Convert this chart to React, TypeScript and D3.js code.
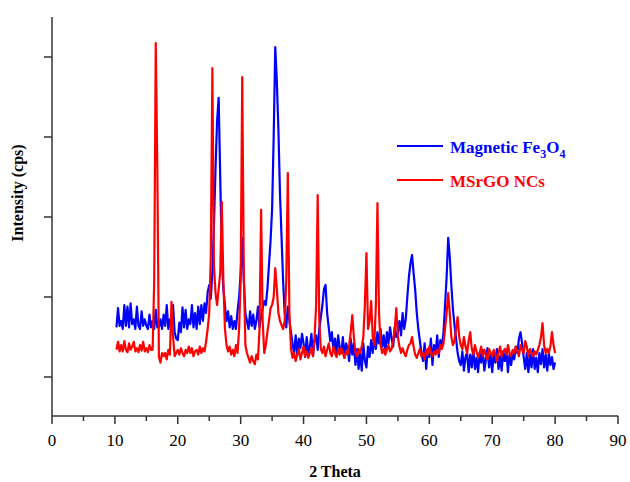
import React from "react";
import * as d3 from "d3";

const thetaStart = 10.25;
const thetaStep = 0.25;

// Magnetic Fe3O4 intensities (cps), 10.25..80 in 0.25 steps
const fe3o4Intensity: number[] = [
  620, 860, 640,
  700, 600, 900, 640,
  880, 620, 920, 660,
  720, 600, 880, 640,
  600, 820, 640, 720,
  640, 600, 780, 620,
  700, 600, 840, 620,
  620, 720, 600, 780,
  640, 900, 600, 720,
  600, 900, 560, 480,
  460, 680, 560, 870,
  620, 840, 600, 720,
  660, 900, 620, 800,
  600, 880, 660, 900,
  700, 920, 800, 1060,
  1150, 980, 1300, 1900,
  2600, 3200, 3490, 2500,
  1500, 1100, 900, 700,
  820, 620, 760, 600,
  700, 600, 820, 1000,
  1300, 1740, 1200, 800,
  700, 600, 820, 640,
  780, 600, 700, 880,
  620, 760, 860, 950,
  900, 1100, 1400, 1700,
  2100, 3000, 4125, 3700,
  3100, 2300, 1750, 1200,
  800, 620, 880, 700,
  560, 420, 300, 520,
  280, 480, 360, 540,
  420, 250, 500, 300,
  380, 540, 260, 460,
  520, 340, 600, 750,
  900, 1100, 1150, 800,
  620, 450, 560, 330,
  480, 280, 520, 360,
  300, 500, 240, 420,
  360, 200, 480, 280,
  420, 150, 350, 100,
  300, 80, 420, 200,
  120, 380, 250, 460,
  300, 500, 350, 560,
  420, 600, 380, 520,
  300, 560, 420, 620,
  480, 380, 620, 500,
  560, 700, 520, 800,
  600, 720, 1000, 1250,
  1420, 1525, 1300, 1090,
  800, 600, 450, 300,
  200, 420, 100, 350,
  250, 480, 150, 400,
  300, 520, 250, 460,
  380, 550, 900, 1250,
  1740, 1500, 1150, 850,
  650, 480, 300, 200,
  150, 320, 80, 250,
  300, 60, 280, 120,
  350, 100, 240, 60,
  300, 180, 340, 80,
  220, 360, 120, 280,
  60, 300, 180, 350,
  100, 260, 80, 320,
  200, 340, 60, 280,
  150, 300, 220, 380,
  300, 480, 560, 420,
  250, 100, 300, 60,
  280, 120, 350, 100,
  240, 60, 300, 160,
  350, 120, 280, 80,
  300, 150, 250, 100,
  180,
];

// MSrGO NCs intensities (cps), 10.25..80 in 0.25 steps
const msrgoIntensity: number[] = [
  340, 440, 320,
  400, 320, 450, 340,
  310, 420, 340, 380,
  440, 320, 360, 310,
  400, 330, 440, 320,
  360, 310, 400, 340,
  340, 1200, 4175, 2600,
  250, 180, 300, 260,
  300, 220, 340, 280,
  940, 500, 260, 300,
  340, 280, 360, 300,
  260, 340, 300, 380,
  300, 360, 260, 320,
  340, 280, 380, 300,
  360, 320, 440, 600,
  800, 1500, 3860, 1400,
  1050, 900, 1100, 1300,
  2190, 1200, 600, 400,
  320, 380, 280, 340,
  260, 400, 300, 600,
  1200, 3750, 1300, 400,
  300, 240, 180, 260,
  200, 160, 280, 220,
  600, 2090, 700, 300,
  400, 560, 700, 860,
  900, 1000, 1360, 1100,
  800, 700, 650, 600,
  700, 1200, 2550, 800,
  350, 240, 300, 200,
  280, 350, 220, 300,
  380, 260, 320, 240,
  300, 360, 260, 500,
  900, 2275, 700, 350,
  300, 380, 260, 340,
  420, 300, 260, 380,
  300, 250, 350, 280,
  360, 300, 240, 320,
  280, 400, 560, 775,
  500, 300, 260, 350,
  300, 380, 500, 900,
  1550, 600, 700, 950,
  500, 400, 900, 2175,
  800, 400, 300, 350,
  280, 340, 400, 320,
  350, 450, 600, 860,
  500, 380, 300, 360,
  300, 260, 340, 400,
  420, 500, 380, 280,
  240, 300, 350, 260,
  300, 220, 340, 280,
  380, 300, 260, 320,
  280, 340, 300, 400,
  350, 420, 600, 800,
  1050, 800, 500, 400,
  450, 600, 750, 500,
  400, 350, 500, 380,
  300, 450, 560, 350,
  280, 400, 320, 250,
  300, 380, 260, 340,
  280, 220, 350, 300,
  260, 340, 280, 200,
  300, 380, 260, 320,
  350, 280, 400, 300,
  260, 340, 300, 380,
  320, 260, 400, 340,
  300, 450, 380, 260,
  350, 300, 260, 320,
  280, 340, 400, 500,
  675, 400, 300, 350,
  300, 380, 560, 400,
  300,
];

const xTicks = [0, 10, 20, 30, 40, 50, 60, 70, 80, 90];
const xMinorTicks = [5, 15, 25, 35, 45, 55, 65, 75, 85];
const yTicks = [0, 1000, 2000, 3000, 4000];

const seriesNames = ["Magnetic Fe3O4", "MSrGO NCs"];
const seriesColors = ["#0000ff", "#ff0000"];

const W = 630;
const H = 482;
const FONT = "'Liberation Serif', 'Times New Roman', serif";

export default function App() {
  const x = d3.scaleLinear().domain([0, 90]).range([52, 618]);
  const y = d3.scaleLinear().domain([-487.5, 4500]).range([416, 17]);

  const toPts = (arr: number[]) =>
    arr.map((v, i) => [thetaStart + i * thetaStep, v] as [number, number]);

  const line = d3
    .line<[number, number]>()
    .x((d) => x(d[0]))
    .y((d) => y(d[1]));

  const series = [fe3o4Intensity, msrgoIntensity];
  const axisColor = "#333";

  return (
    <svg
      width={W}
      height={H}
      style={{ position: "absolute", left: 0, top: 0, background: "#fff" }}
      fontFamily={FONT}
    >
      <rect x={0} y={0} width={W} height={H} fill="#fff" />
      {series.map((s, k) => (
        <path
          key={k}
          d={line(toPts(s)) || ""}
          fill="none"
          stroke={seriesColors[k]}
          strokeWidth={2.2}
          strokeLinejoin="round"
        />
      ))}
      {/* axes */}
      <line x1={x(0)} x2={x(0)} y1={17} y2={416} stroke={axisColor} strokeWidth={1.5} />
      <line x1={x(0)} x2={x(90)} y1={416} y2={416} stroke={axisColor} strokeWidth={1.5} />
      {yTicks.map((t) => (
        <line key={"yt" + t} x1={x(0) - 8} x2={x(0)} y1={y(t)} y2={y(t)} stroke={axisColor} strokeWidth={1.5} />
      ))}
      {xTicks.map((t) => (
        <g key={"xt" + t}>
          <line x1={x(t)} x2={x(t)} y1={416} y2={424} stroke={axisColor} strokeWidth={1.5} />
          <text x={x(t)} y={446} textAnchor="middle" fontSize={17} fill="#000">
            {t}
          </text>
        </g>
      ))}
      {xMinorTicks.map((t) => (
        <line key={"xm" + t} x1={x(t)} x2={x(t)} y1={416} y2={421} stroke={axisColor} strokeWidth={1.5} />
      ))}
      <text x={335} y={477} textAnchor="middle" fontSize={16} fontWeight="bold" fill="#000">
        2 Theta
      </text>
      <text
        transform="translate(23,193) rotate(-90)"
        textAnchor="middle"
        fontSize={16}
        fontWeight="bold"
        fill="#000"
      >
        Intensity (cps)
      </text>
      {/* legend */}
      <line x1={397} x2={443} y1={146} y2={146} stroke={seriesColors[0]} strokeWidth={1.8} />
      <text x={450} y={153} fontSize={17} fontWeight="bold" fill={seriesColors[0]}>
        Magnetic Fe<tspan dy={5} fontSize={12}>3</tspan>
        <tspan dy={-5}>O</tspan>
        <tspan dy={5} fontSize={12}>4</tspan>
      </text>
      <line x1={397} x2={443} y1={180} y2={180} stroke={seriesColors[1]} strokeWidth={1.8} />
      <text x={450} y={187} fontSize={17} fontWeight="bold" fill={seriesColors[1]}>
        {seriesNames[1]}
      </text>
    </svg>
  );
}
